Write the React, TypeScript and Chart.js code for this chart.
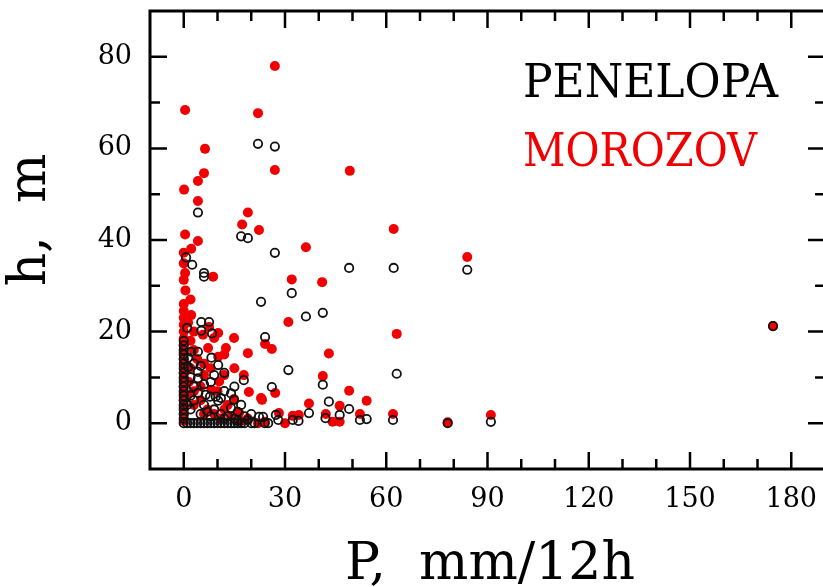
import React, { useEffect, useRef } from "react";
import { Chart, registerables } from "chart.js";

Chart.register(...registerables);

const xTickValues = [0, 30, 60, 90, 120, 150, 180];
const yTickValues = [0, 20, 40, 60, 80];
const xMinor = [10, 20, 40, 50, 70, 80, 100, 110, 130, 140, 160, 170];
const yMinor = [10, 30, 50, 70];

const seriesNames = ["PENELOPA", "MOROZOV"];

// PENELOPA (black open circles)
const penelopaP = [
  22, 27, 4.2, 17, 19, 27, 0.7, 2.5, 49, 62.2, 84, 6, 6, 32, 22.9, 41.2, 36.2, 5.2, 7.5, 1, 5.2, 8.4, 24.1,
  0, 2.2, 4.2, 8.2, 1.3, 10.2, 1.3, 31, 63.1, 4.2, 4.2, 17.8, 41.2, 26.1, 4.3, 6.5, 7.8, 9.5, 10.2, 14.9, 43,
  14, 49, 37.1, 27.3, 46.2, 22.3, 23.5, 42, 19, 28, 32.3, 34, 52.2, 54.2, 62, 78.2, 91, 174.6,
  0, 0, 0, 0, 0, 0, 0, 0, 0, 0, 0, 0, 0, 0, 0, 0, 0, 0,
  1, 2, 3, 4, 5, 6, 7, 8, 9, 10, 11, 12, 13, 14, 15, 16, 17, 18, 20, 21, 24, 25,
  2, 3, 5, 6, 8, 9, 11, 12, 13, 15, 16, 3, 2, 6, 8, 12, 14, 11, 16, 18, 20, 1, 2, 3, 7, 5, 9, 12, 15, 17,
];
const penelopaH = [
  61, 60.4, 46, 40.8, 40.4, 37.2, 36.2, 34.6, 33.9, 33.9, 33.5, 32.8, 32, 28.4, 26.5, 24.1, 23.3, 22.1, 22.1, 20.8, 20.2, 19.6, 18.8,
  16, 15.6, 15.6, 14.3, 14.3, 12.7, 12.3, 11.6, 10.8, 11.2, 9.8, 9.4, 8.4, 7.9, 6.6, 6.2, 5.8, 5.8, 4.9, 5.1, 4.7,
  3.3, 3.1, 2.2, 1.8, 1.8, 1.4, 1.4, 1.1, 0.7, 0.7, 0.7, 0.5, 0.7, 0.9, 0.7, 0, 0.3, 21.2,
  0, 1, 2, 3, 4, 5, 6, 7, 8, 9, 10, 11, 12, 13, 14, 15, 17, 18,
  0, 0, 0, 0, 0, 0, 0, 0, 0, 0, 0, 0, 0, 0, 0, 0, 0, 0, 0, 0, 0, 0,
  3, 5, 2, 4, 1.5, 3, 2, 1, 1.5, 1, 0.5, 8, 6, 8.5, 9, 7, 6.5, 5.5, 2.5, 1.5, 2, 4, 10, 13, 2.5, 12.5, 10.5, 11, 8, 4,
];

// MOROZOV (red filled circles)
const morozovP = [
  0.4, 27, 22, 6.3, 27, 49.2, 6, 4.2, 0.1, 4.2, 19, 17.3, 22.3, 62.2, 0.4, 4.2, 36.2, 2.2, 0, 84, 0, 0.4, 8.7, 32, 0, 41,
  31, 63.1, 24.1, 26.1, 43, 41.2, 27.1, 23.2, 49, 54.2, 37.1, 46.2, 28.2, 32.3, 34.1, 42.1, 52.2, 62, 24, 30, 44.1, 46.2,
  78.2, 91, 174.6, 22, 19.3, 14.9, 16.4,
  0, 0, 0, 0, 0, 0, 0, 0, 0, 0, 0, 0, 0, 0, 0, 0, 0, 0,
  2.2, 1.3, 7.5, 10.2, 5.7, 9, 14.9, 19, 7.2, 10.2, 6, 10.5, 8.2, 17.8, 12, 22.9, 12.5,
  2, 3, 1.5, 3, 5, 7, 9, 11, 12, 14, 17, 19, 2, 4, 6, 8, 3, 5, 1, 6, 13, 10, 15, 12, 2, 0.5, 3,
];
const morozovH = [
  68.4, 78, 67.7, 59.9, 55.3, 55.1, 54.6, 52.9, 51, 48.5, 46, 43.4, 42.2, 42.4, 41.2, 39.8, 38.4, 38.1, 37.2, 36.3, 34.9, 32.8, 32, 31.4, 31.3, 30.8,
  22.1, 19.5, 17.3, 16.2, 15.2, 10.3, 6.6, 5.1, 7.1, 4.9, 4.3, 3.8, 2.2, 1.6, 1.8, 2, 2, 2, 0.3, 0, 0.3, 0.3,
  0.2, 1.8, 21.2, 0, 6.8, 5.3, 2.3,
  0.5, 2, 3.5, 5, 6.5, 8, 9.5, 11, 12.5, 14, 15.5, 17, 18.5, 20, 21.5, 23, 24.5, 26,
  23.6, 22, 21, 19.7, 19.3, 18.6, 18.6, 15.3, 16.4, 14.5, 10.5, 9.1, 7.3, 10.5, 10.5, 5.5, 16.4,
  18, 16, 9, 7, 5, 3, 2, 1, 3, 1.5, 0.5, 1, 12, 14, 13, 12, 4, 8, 6, 2, 4, 7, 12, 15, 27, 29, 20,
];

const toPoints = (xs: number[], ys: number[]) => xs.map((x, i) => ({ x, y: ys[i] }));

const SERIF = "'DejaVu Serif', serif";
const RED = "rgb(240,0,0)";

const framePlugin = {
  id: "frameAndText",
  afterDatasetsDraw(chart: any) {
    const { ctx, chartArea } = chart;
    const { left, right, top, bottom } = chartArea;
    const xs = chart.scales.x;
    const ys = chart.scales.y;
    ctx.save();
    ctx.strokeStyle = "#000";
    ctx.lineWidth = 3;
    ctx.strokeRect(left, top, right - left, bottom - top);
    ctx.lineWidth = 2.5;
    const major = 17;
    const minor = 10;
    const drawX = (v: number, len: number) => {
      const px = xs.getPixelForValue(v);
      ctx.beginPath();
      ctx.moveTo(px, bottom);
      ctx.lineTo(px, bottom - len);
      ctx.moveTo(px, top);
      ctx.lineTo(px, top + len);
      ctx.stroke();
    };
    const drawY = (v: number, len: number) => {
      const py = ys.getPixelForValue(v);
      ctx.beginPath();
      ctx.moveTo(left, py);
      ctx.lineTo(left + len, py);
      ctx.moveTo(right, py);
      ctx.lineTo(right - len, py);
      ctx.stroke();
    };
    xTickValues.forEach((v) => drawX(v, major));
    xMinor.forEach((v) => drawX(v, minor));
    yTickValues.forEach((v) => drawY(v, major));
    yMinor.forEach((v) => drawY(v, minor));

    // legend-like labels
    ctx.textAlign = "left";
    ctx.textBaseline = "alphabetic";
    ctx.font = `46px ${SERIF}`;
    ctx.fillStyle = "#000";
    ctx.fillText(seriesNames[0], 523, 97, 255);
    ctx.fillStyle = RED;
    ctx.fillText(seriesNames[1], 523, 166, 234);

    // axis titles
    ctx.fillStyle = "#000";
    ctx.font = `52px ${SERIF}`;
    ctx.textAlign = "center";
    ctx.fillText("P,  mm/12h", 490, 579);
    ctx.save();
    ctx.translate(45, 220);
    ctx.rotate(-Math.PI / 2);
    ctx.fillText("h,  m", 0, 0);
    ctx.restore();
    ctx.restore();
  },
};

export default function App() {
  const ref = useRef<HTMLCanvasElement | null>(null);
  useEffect(() => {
    document.body.style.margin = "0";
    const canvas = ref.current!;
    const chart = new Chart(canvas, {
      type: "scatter",
      data: {
        datasets: [
          {
            label: seriesNames[0],
            data: toPoints(penelopaP, penelopaH),
            pointRadius: 4.2,
            pointBorderWidth: 1.8,
            pointBorderColor: "#111",
            pointBackgroundColor: "rgba(0,0,0,0)",
            order: 1,
          },
          {
            label: seriesNames[1],
            data: toPoints(morozovP, morozovH),
            pointRadius: 5,
            pointBorderWidth: 0,
            pointBackgroundColor: RED,
            pointBorderColor: RED,
            order: 2,
          },
        ],
      },
      options: {
        animation: false,
        responsive: false,
        events: [],
        layout: { padding: { top: 11, right: 7, left: 0, bottom: 0 } },
        plugins: { legend: { display: false }, tooltip: { enabled: false } },
        scales: {
          x: {
            type: "linear",
            min: -10,
            max: 190,
            grid: { display: false, drawTicks: false },
            border: { display: false },
            afterBuildTicks: (s: any) => {
              s.ticks = xTickValues.map((v) => ({ value: v }));
            },
            afterFit: (s: any) => {
              s.height = 118;
              s.paddingLeft = 0;
              s.paddingRight = 0;
            },
            ticks: {
              color: "#000",
              padding: 15,
              maxRotation: 0,
              autoSkip: false,
              font: { family: SERIF, size: 27 },
            },
          },
          y: {
            type: "linear",
            min: -10,
            max: 90,
            grid: { display: false, drawTicks: false },
            border: { display: false },
            afterBuildTicks: (s: any) => {
              s.ticks = yTickValues.map((v) => ({ value: v }));
            },
            afterFit: (s: any) => {
              s.width = 150;
              s.paddingTop = 0;
              s.paddingBottom = 0;
            },
            ticks: {
              color: "#000",
              padding: 18,
              autoSkip: false,
              font: { family: SERIF, size: 27 },
            },
          },
        },
      },
      plugins: [framePlugin],
    });
    return () => chart.destroy();
  }, []);
  return (
    <div style={{ position: "fixed", left: 0, top: 0, width: 823, height: 587, overflow: "hidden", background: "#fff" }}>
      <canvas ref={ref} width={832} height={587} style={{ display: "block" }} />
    </div>
  );
}
